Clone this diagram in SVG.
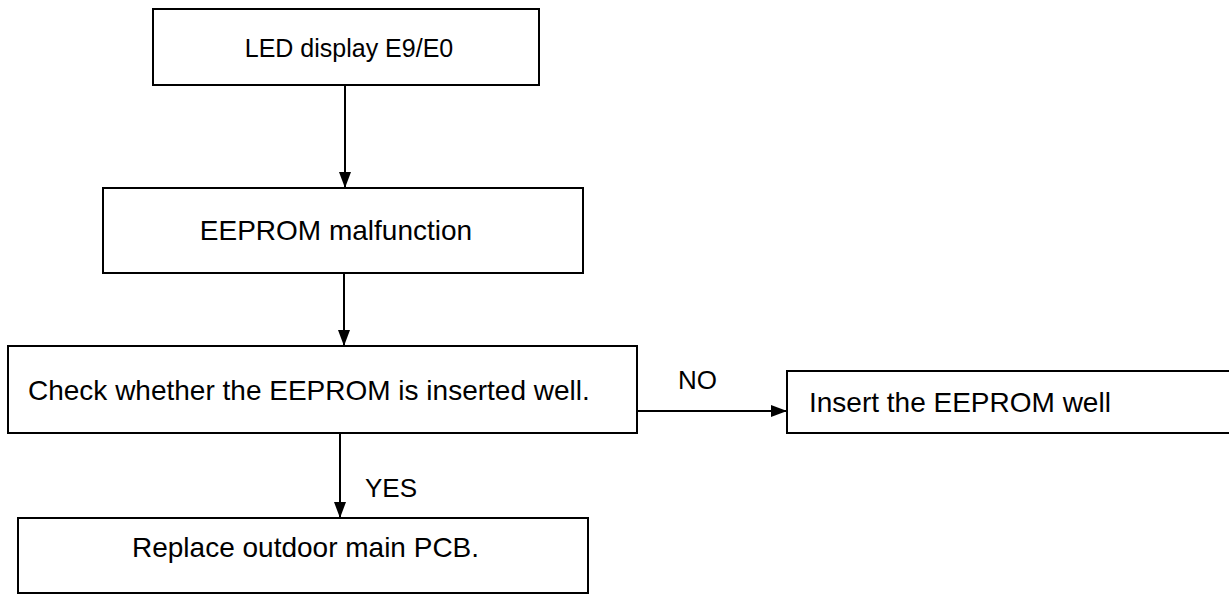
<svg xmlns="http://www.w3.org/2000/svg" width="1229" height="595" viewBox="0 0 1229 595">
<style>
.box{fill:#fff;stroke:#000;stroke-width:2}
.t{font-family:"Liberation Sans",Arial,sans-serif;fill:#000}
.c{stroke:#000;stroke-width:2;fill:none}
</style>
<defs>
<marker id="ah" markerWidth="16" markerHeight="12" refX="15" refY="6" orient="auto" markerUnits="userSpaceOnUse">
<path d="M0,0 L16,6 L0,12 Z" fill="#000"/>
</marker>
</defs>
<rect width="1229" height="595" fill="#fff"/>
<g id="connectors">
<line class="c" x1="345" y1="85" x2="345" y2="187" marker-end="url(#ah)"/>
<line class="c" x1="344" y1="273" x2="344" y2="345" marker-end="url(#ah)"/>
<line class="c" x1="637" y1="411" x2="786" y2="411" marker-end="url(#ah)"/>
<line class="c" x1="340" y1="433" x2="340" y2="517" marker-end="url(#ah)"/>
<text class="t" x="678" y="389" font-size="26">NO</text>
<text class="t" x="365" y="497" font-size="26">YES</text>
</g>
<g id="n1">
<rect class="box" x="153" y="9" width="386" height="76"/>
<text class="t" x="349" y="57" font-size="25" text-anchor="middle">LED display E9/E0</text>
</g>
<g id="n2">
<rect class="box" x="103" y="188" width="480" height="85"/>
<text class="t" x="336" y="240" font-size="28" text-anchor="middle">EEPROM malfunction</text>
</g>
<g id="n3">
<rect class="box" x="8" y="346" width="629" height="87"/>
<text class="t" x="28" y="400" font-size="28">Check whether the EEPROM is inserted well.</text>
</g>
<g id="n4">
<rect class="box" x="787" y="371" width="445" height="62"/>
<text class="t" x="809" y="412" font-size="28">Insert the EEPROM well</text>
</g>
<g id="n5">
<rect class="box" x="18" y="518" width="570" height="75"/>
<text class="t" x="132" y="557" font-size="28">Replace outdoor main PCB.</text>
</g>
</svg>
